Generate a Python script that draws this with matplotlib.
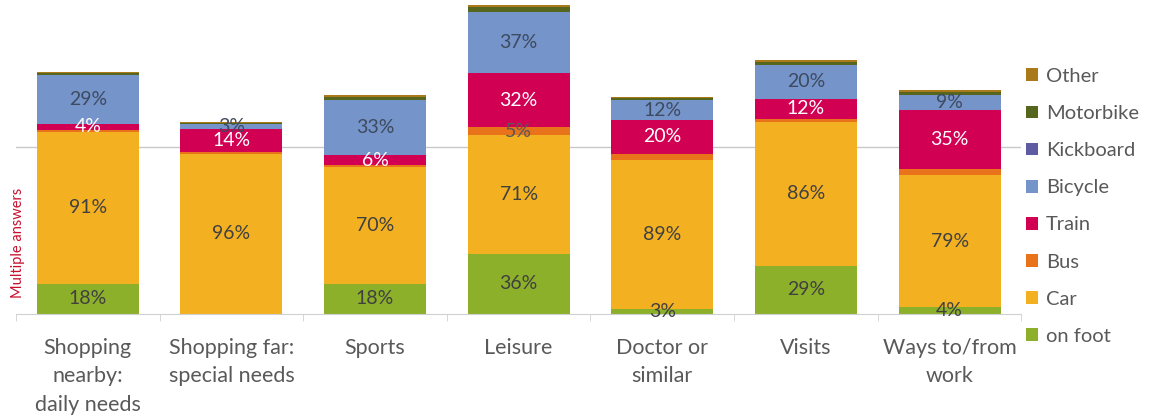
import matplotlib
matplotlib.use("Agg")
import matplotlib.pyplot as plt
from matplotlib.patches import Patch
import numpy as np

categories = ["Shopping\nnearby:\ndaily needs", "Shopping far:\nspecial needs", "Sports",
              "Leisure", "Doctor or\nsimilar", "Visits", "Ways to/from\nwork"]

on_foot   = [18, 0, 18, 36, 3, 29, 4]
car       = [91, 96, 70, 71, 89, 86, 79]
bus       = [1, 1, 1, 5, 4, 2, 4]
train     = [4, 14, 6, 32, 20, 12, 35]
bicycle   = [29, 3, 33, 37, 12, 20, 9]
kickboard = [0, 0, 0, 0, 0, 0, 0]
motorbike = [1.5, 0.5, 2, 3, 1.5, 2, 2]
other     = [0.5, 0.3, 1, 1, 0.5, 1, 1]

series_names = ["on foot", "Car", "Bus", "Train", "Bicycle", "Kickboard", "Motorbike", "Other"]
series_vals = [on_foot, car, bus, train, bicycle, kickboard, motorbike, other]
colors = ["#8DB02A", "#F3B121", "#E8731A", "#D20052", "#7594CA", "#5E5BA3", "#56661F", "#A9791A"]

# which series get value labels (per category)
label_on = {
    "on foot": [True] * 7,
    "Car": [True] * 7,
    "Bus": [False, False, False, True, False, False, False],
    "Train": [True] * 7,
    "Bicycle": [True] * 7,
}
label_colors = {"on foot": "#404040", "Car": "#404040", "Bus": "#595959",
                "Train": "white", "Bicycle": "#3E4A5F"}

plt.rcParams['font.family'] = ['Lato', 'DejaVu Sans']

fig = plt.figure(figsize=(11.74, 4.19), dpi=100)
ax = fig.add_axes([0.0136, 0.2506, 0.8564, 0.7494])

x = np.arange(len(categories))
width = 0.71
bottom = np.zeros(len(categories))

ax.axhline(100, color="#C8C8C8", lw=1.0, zorder=0)

for name, vals, col in zip(series_names, series_vals, colors):
    vals = np.array(vals, dtype=float)
    ax.bar(x, vals, width, bottom=bottom, color=col, zorder=2, linewidth=0)
    if name in label_on:
        for i, v in enumerate(vals):
            if label_on[name][i] and v > 0:
                ax.text(x[i], bottom[i] + v / 2, f"{int(v)}%", ha="center", va="center",
                        fontsize=14, color=label_colors[name], zorder=3)
    bottom += vals

ax.set_xlim(-0.5, len(categories) - 0.5)
ax.set_ylim(0, 188)
ax.set_yticks([])
for s in ["top", "right", "left"]:
    ax.spines[s].set_visible(False)
ax.spines["bottom"].set_color("#D0D0D0")
ax.set_xticks(x)
ax.set_xticklabels(categories, fontsize=15.5, color="#595959", linespacing=1.55)
ax.tick_params(axis="x", length=0, pad=17)
ax.set_xticks(np.arange(len(categories) + 1) - 0.5, minor=True)
ax.tick_params(axis="x", which="minor", length=5, color="#D0D0D0")

fig.text(0.015, 0.42, "Multiple answers", rotation=90, color="#C8102E",
         fontsize=10.5, ha="center", va="center")

handles = [Patch(facecolor=c, edgecolor="none") for c in colors][::-1]
labels = series_names[::-1]
fig.legend(handles, labels, loc="upper left", bbox_to_anchor=(0.874, 0.838),
           frameon=False, fontsize=14.5, labelcolor="#595959", borderpad=0, borderaxespad=0,
           handlelength=0.6, handleheight=0.6, handletextpad=0.4, labelspacing=1.0)

fig.savefig("out.png", dpi=100)
